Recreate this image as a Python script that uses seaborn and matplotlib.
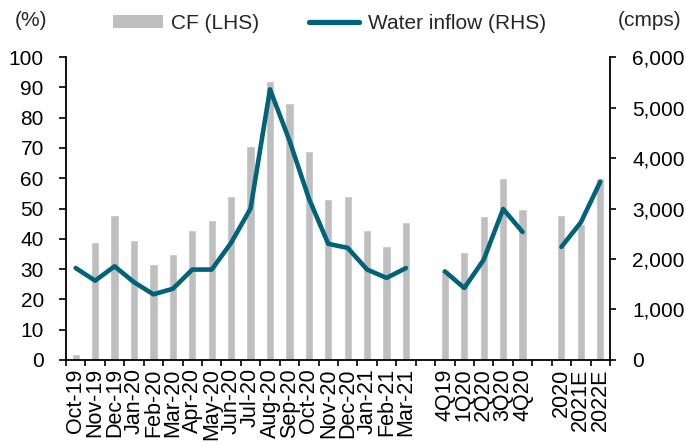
import matplotlib
matplotlib.use("Agg")
import matplotlib.pyplot as plt
import pandas as pd
import seaborn as sns
from matplotlib.patches import Patch
from matplotlib.lines import Line2D
from matplotlib.ticker import FixedLocator, FuncFormatter

sns.set_theme(style="white")
plt.rcParams['font.family'] = ['Liberation Sans', 'DejaVu Sans']

# data
months = ['Oct-19', 'Nov-19', 'Dec-19', 'Jan-20', 'Feb-20', 'Mar-20', 'Apr-20', 'May-20', 'Jun-20',
          'Jul-20', 'Aug-20', 'Sep-20', 'Oct-20', 'Nov-20', 'Dec-20', 'Jan-21', 'Feb-21', 'Mar-21']
quarters = ['4Q19', '1Q20', '2Q20', '3Q20', '4Q20']
years = ['2020', '2021E', '2022E']

cf_months = [2, 39, 48, 39.6, 31.8, 35, 43, 46.2, 54, 70.5, 92, 85, 69, 53, 54, 43, 37.6, 45.5]
cf_quarters = [29.7, 35.7, 47.5, 60, 50]
cf_years = [48, 45, 60]

inflow_months = [1820, 1570, 1855, 1540, 1300, 1410, 1790, 1790, 2320, 3000, 5360, 4350, 3200,
                 2300, 2220, 1790, 1625, 1820]
inflow_quarters = [1755, 1425, 1985, 2990, 2535]
inflow_years = [2240, 2725, 3530]

order = months + [' '] + quarters + ['  '] + years

groups = [(months, cf_months, inflow_months, 'm'),
          (quarters, cf_quarters, inflow_quarters, 'q'),
          (years, cf_years, inflow_years, 'y')]
rows = []
for labels, cf, inflow, g in groups:
    for lab, c, w in zip(labels, cf, inflow):
        rows.append({'label': lab, 'cf': c, 'inflow': w, 'group': g, 'pos': order.index(lab)})
df = pd.DataFrame(rows)

bar_color = '#BFBFBF'
line_color = '#00637A'

fig = plt.figure(figsize=(6.86, 4.46), dpi=100)
ax = fig.add_axes([0.0962, 0.193, 0.793, 0.679])

sns.barplot(data=df, x='label', y='cf', order=order, color=bar_color, width=0.42,
            saturation=1, ax=ax)
ax.set_xlim(-0.5, len(order) - 0.5)
ax.set_ylim(0, 100)
ax.set_yticks(range(0, 101, 10))
ax.set_xlabel('')
ax.set_ylabel('')

ax2 = ax.twinx()
sns.lineplot(data=df, x='pos', y='inflow', units='group', estimator=None, color=line_color,
             linewidth=3.3, ax=ax2, legend=False)
ax2.set_ylim(0, 6000)
ax2.set_yticks(range(0, 6001, 1000))
ax2.yaxis.set_major_formatter(FuncFormatter(lambda v, p: f'{int(v):,}'))
ax2.set_ylabel('')
ax2.set_xlabel('')
ax.set_xlim(-0.5, len(order) - 0.5)

fs = 15
ax.set_xticks(range(len(order)))
ax.set_xticklabels(order, rotation=90, fontsize=15.5, color='black')
ax.xaxis.set_minor_locator(FixedLocator([i - 0.5 for i in range(len(order) + 1)]))
ax.tick_params(axis='x', which='major', length=0, pad=6)
ax.tick_params(axis='x', which='minor', bottom=True, length=4, width=1.2, color='black', direction='out')
ax.tick_params(axis='y', left=True, length=5, width=1.2, color='black', direction='out',
               labelsize=fs, labelcolor='black', pad=11)
ax2.tick_params(axis='y', right=True, length=4, width=1.2, color='black', direction='out',
                labelsize=fs, labelcolor='black', pad=12)

for a in (ax, ax2):
    a.spines['top'].set_visible(False)
    for s in ('left', 'right', 'bottom'):
        a.spines[s].set_color('black')
        a.spines[s].set_linewidth(1.3)
ax.spines['right'].set_visible(False)
ax2.spines['left'].set_visible(False)
ax2.spines['bottom'].set_visible(False)

fig.text(0.021, 0.955, '(%)', fontsize=fs, ha='left', va='center')
fig.text(0.993, 0.955, '(cmps)', fontsize=fs, ha='right', va='center')

handles = [Patch(facecolor=bar_color, edgecolor='none'),
           Line2D([0], [0], color=line_color, linewidth=3.8, solid_capstyle='round')]
fig.legend(handles, ['CF (LHS)', 'Water inflow (RHS)'], loc='center', bbox_to_anchor=(0.48, 0.948),
           ncol=2, frameon=False, fontsize=fs, handlelength=2.4, handleheight=0.6,
           handletextpad=0.4, columnspacing=2.4)

fig.savefig('out.png', dpi=100)
